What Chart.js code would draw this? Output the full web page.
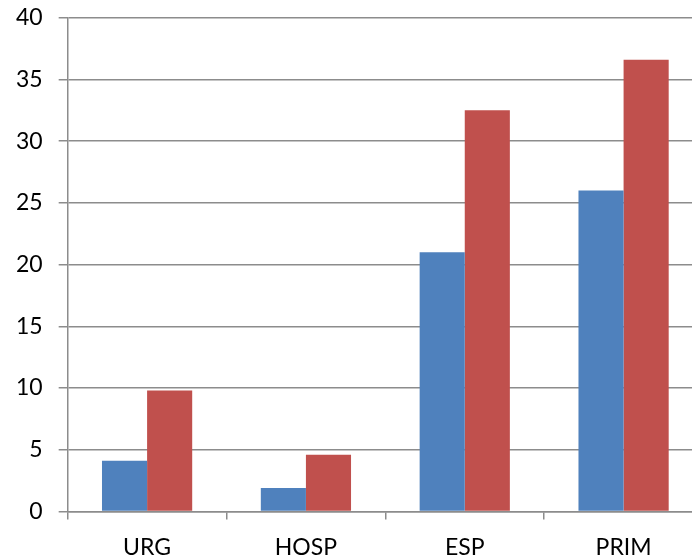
<!DOCTYPE html>
<html>
<head>
<meta charset="utf-8">
<script src="https://cdn.jsdelivr.net/npm/chart.js@4.4.1/dist/chart.umd.min.js"></script>
<style>
  html, body { margin: 0; padding: 0; background: #fff; overflow: hidden; }
  #wrap { width: 703px; height: 587px; margin-top: -12px; }
</style>
</head>
<body>
<div id="wrap"><canvas id="barChart"></canvas></div>
<script>
const categories = ["URG", "HOSP", "ESP", "PRIM"];
const seriesBlue = [4.1, 1.9, 21.0, 26.0];
const seriesRed = [9.8, 4.6, 32.5, 36.6];
const yTicks = [0, 5, 10, 15, 20, 25, 30, 35, 40];

document.addEventListener("DOMContentLoaded", function () {
  const ctx = document.getElementById("barChart").getContext("2d");
  const axisGrey = "#8c8c8c";

  new Chart(ctx, {
    type: "bar",
    data: {
      labels: categories,
      datasets: [
        {
          label: "Serie 1",
          data: seriesBlue,
          backgroundColor: "#4f81bd",
          borderWidth: 0
        },
        {
          label: "Serie 2",
          data: seriesRed,
          backgroundColor: "#c0504d",
          borderWidth: 0
        }
      ]
    },
    options: {
      responsive: true,
      maintainAspectRatio: false,
      animation: false,
      layout: { padding: { left: 0, top: 6, right: 0, bottom: 0 } },
      datasets: { bar: { categoryPercentage: 0.568, barPercentage: 1.0 } },
      plugins: {
        legend: { display: false },
        tooltip: { enabled: false }
      },
      scales: {
        x: {
          grid: {
            drawOnChartArea: false,
            drawTicks: true,
            tickLength: 8,
            color: axisGrey,
            lineWidth: 1.5
          },
          border: { color: axisGrey, width: 1.5 },
          ticks: {
            color: "#000",
            padding: 14,
            font: { family: "Lato", size: 23 }
          }
        },
        y: {
          min: 0,
          max: 40,
          afterBuildTicks: function (axis) {
            axis.ticks = yTicks.map(function (v) { return { value: v }; });
          },
          grid: {
            color: axisGrey,
            lineWidth: 1.5,
            drawTicks: true,
            tickLength: 9
          },
          border: { color: axisGrey, width: 1.5 },
          ticks: {
            color: "#000",
            padding: 16,
            font: { family: "Lato", size: 23 }
          }
        }
      }
    }
  });
});
</script>
</body>
</html>
